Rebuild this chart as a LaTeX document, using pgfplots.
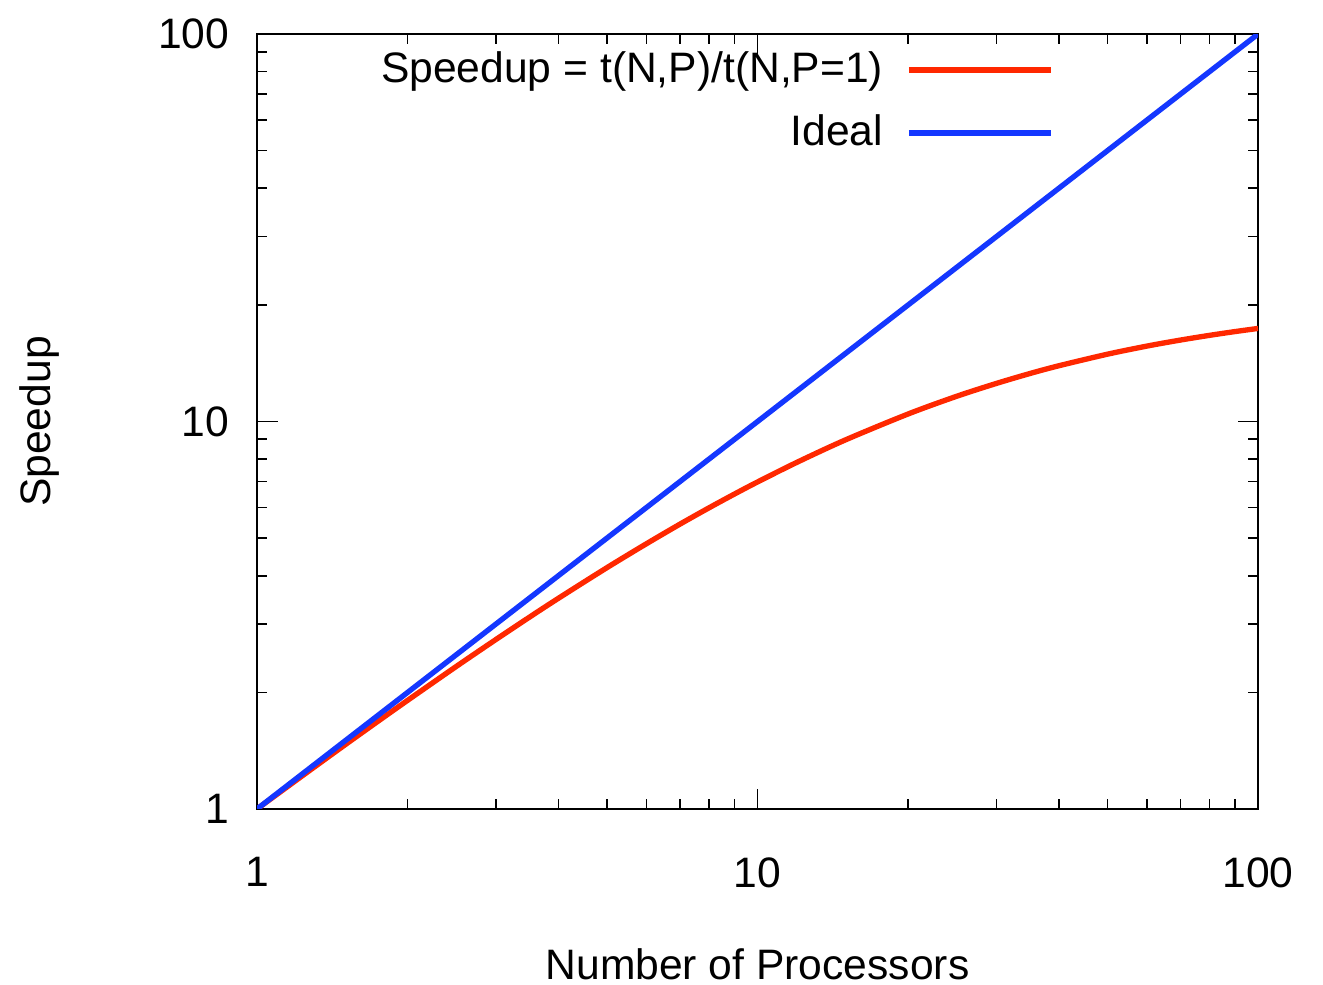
\documentclass[12pt,border=0pt]{standalone}
\usepackage{fontspec}
\setmainfont{Liberation Sans}
\usepackage{pgfplots}
\pgfplotsset{compat=1.18}
\definecolor{speedRed}{RGB}{255,40,0}
\definecolor{idealBlue}{RGB}{20,55,255}

\begin{document}
\begin{tikzpicture}
\begin{loglogaxis}[
  name=ax,
  scale only axis,
  width=282pt, height=218.3pt,
  xmin=1, xmax=100, ymin=1, ymax=100,
  /pgf/number format/assume math mode=true,
  xtick={1,10,100}, xticklabels={1,10,100},
  ytick={1,10,100}, yticklabels={1,10,100},
  axis line style={line width=0.7pt},
  major tick length=5.8pt, minor tick length=2.8pt,
  every tick/.style={black, line width=0.45pt},
  xticklabel style={yshift=-9.4pt},
  yticklabel style={xshift=-3.6pt},
  xlabel={Number of Processors},
  ylabel={Speedup},
  xlabel style={at={(axis description cs:0.5,-0.2)}, anchor=center},
  ylabel style={at={(axis description cs:-0.217,0.5)}, anchor=center},
  legend plot pos=right,
  legend cell align=right,
  legend image code/.code={\draw[#1] (0pt,0pt) -- (40pt,0pt);},
  legend style={draw=none, fill=none, at={(axis description cs:0.807,0.997)}, anchor=north east,
    row sep=3.3pt, column sep=4.5pt},
]
% Amdahl-like measured speedup
\addplot[speedRed, line width=1.5pt, smooth] coordinates {
  (1,1) (1.25,1.235) (1.5,1.465) (1.75,1.689) (2,1.908) (2.5,2.332) (3,2.737)
  (3.5,3.125) (4,3.497) (5,4.195) (6,4.838) (7,5.435) (8,5.988) (9,6.503)
  (10,6.983) (12,7.853) (15,8.971) (20,10.46) (25,11.62) (30,12.54) (35,13.30)
  (40,13.93) (50,14.92) (60,15.66) (70,16.23) (80,16.69) (90,17.07) (100,17.39)
};
\addlegendentry{Speedup = t(N,P)/t(N,P=1)}
\addplot[idealBlue, line width=1.5pt] coordinates {(1,1) (100,100)};
\addlegendentry{Ideal}
\end{loglogaxis}
\pgfresetboundingbox
\path[use as bounding box] ([shift={(-72.4pt,-49.3pt)}]ax.south west) rectangle ([shift={(18.3pt,9.6pt)}]ax.north east);
\end{tikzpicture}
\end{document}
